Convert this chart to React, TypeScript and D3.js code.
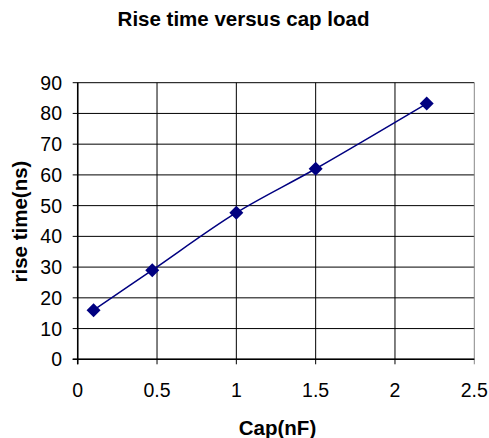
import React from "react";
import * as d3 from "d3";

const capNF = [0.1, 0.47, 1, 1.5, 2.2];
const riseNs = [16, 29, 47.7, 62, 83.2];
const xTicks = [0, 0.5, 1, 1.5, 2, 2.5];
const yTicks = [0, 10, 20, 30, 40, 50, 60, 70, 80, 90];

const W = 489, H = 438;
const L = 77.7, R = 474.3, T = 82.7, B = 359.3;

export default function App() {
  const x = d3.scaleLinear().domain([0, 2.5]).range([L, R]);
  const y = d3.scaleLinear().domain([0, 90]).range([B, T]);
  const pts = capNF.map((c, i) => [x(c), y(riseNs[i])] as [number, number]);
  const line = d3.line().curve(d3.curveCatmullRom.alpha(0.5))(pts) || "";
  const font = "Liberation Sans, Arial, sans-serif";
  return (
    <svg width={W} height={H} style={{ position: "absolute", left: 0, top: 0 }} fontFamily={font}>
      <rect width={W} height={H} fill="#fff" />
      <text x={243.5} y={26} textAnchor="middle" fontWeight="bold" fontSize={20.5}>Rise time versus cap load</text>
      {yTicks.map((t) => (
        <g key={"y" + t}>
          <line x1={L - 5} x2={R} y1={y(t)} y2={y(t)} stroke="#000" strokeWidth={1} />
          <text x={62} y={y(t) + 7} textAnchor="end" fontSize={19.5}>{t}</text>
        </g>
      ))}
      {xTicks.map((t) => (
        <g key={"x" + t}>
          <line x1={x(t)} x2={x(t)} y1={T} y2={B + 5} stroke={t === 2.5 ? "#888" : "#000"} strokeWidth={1} />
          <text x={x(t)} y={396.5} textAnchor="middle" fontSize={19.5}>{t}</text>
        </g>
      ))}
      <line x1={L} x2={L} y1={T} y2={B + 5} stroke="#000" strokeWidth={1.5} />
      <line x1={L - 5} x2={R} y1={B} y2={B} stroke="#000" strokeWidth={1.5} />
      <path d={line} fill="none" stroke="#000080" strokeWidth={1.5} />
      {pts.map(([px, py], i) => (
        <path key={"m" + i} d={`M${px},${py - 7}L${px + 7},${py}L${px},${py + 7}L${px - 7},${py}Z`} fill="#000080" />
      ))}
      <text x={277.5} y={435} textAnchor="middle" fontWeight="bold" fontSize={20.5}>Cap(nF)</text>
      <text transform={`translate(27,221.5) rotate(-90)`} textAnchor="middle" fontWeight="bold" fontSize={20.5}>rise time(ns)</text>
    </svg>
  );
}
